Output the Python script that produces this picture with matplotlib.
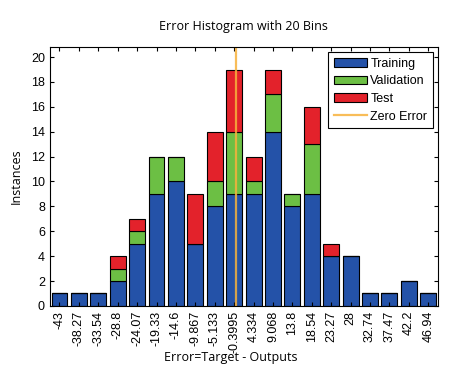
import matplotlib
matplotlib.use('Agg')
import matplotlib.pyplot as plt
import numpy as np

# Histogram data (20 bins)
binCenters = ['-43', '-38.27', '-33.54', '-28.8', '-24.07', '-19.33', '-14.6', '-9.867',
              '-5.133', '-0.3995', '4.334', '9.068', '13.8', '18.54', '23.27', '28',
              '32.74', '37.47', '42.2', '46.94']
training = [1, 1, 1, 2, 5, 9, 10, 5, 8, 9, 9, 14, 8, 9, 4, 4, 1, 1, 2, 1]
validation = [0, 0, 0, 1, 1, 3, 2, 0, 2, 5, 1, 3, 1, 4, 0, 0, 0, 0, 0, 0]
test = [0, 0, 0, 1, 1, 0, 0, 4, 4, 5, 2, 2, 0, 3, 1, 0, 0, 0, 0, 0]
binWidth = 4.7335

blue = '#2452a8'
green = '#6cbf44'
red = '#e3222b'
orange = '#f7b23c'

plt.rcParams['font.family'] = ['Liberation Sans', 'DejaVu Sans']

fig = plt.figure(figsize=(4.61, 3.8), dpi=100)
ax = fig.add_axes([0.108, 0.195, 0.842, 0.681])

pos = np.arange(1, len(binCenters) + 1)
tr = np.array(training)
va = np.array(validation)
te = np.array(test)
b1 = ax.bar(pos, tr, width=0.82, color=blue, edgecolor='black', linewidth=0.8, label='Training')
b2 = ax.bar(pos, va, width=0.82, bottom=tr, color=green, edgecolor='black', linewidth=0.8, label='Validation')
b3 = ax.bar(pos, te, width=0.82, bottom=tr + va, color=red, edgecolor='black', linewidth=0.8, label='Test')

# zero error line: position relative to bin centres
zeroPos = 10 + 0.3995 / binWidth
zl = ax.axvline(zeroPos, color=orange, linewidth=1.6, alpha=0.85, label='Zero Error')

ax.set_xlim(0.5, 20.5)
ax.set_ylim(0, 20.8)
ax.set_yticks(np.arange(0, 21, 2))
ax.set_xticks(pos)
ax.set_xticklabels(binCenters, rotation=90, fontsize=9)
ax.tick_params(axis='y', labelsize=9)
ax.tick_params(direction='in', top=True, right=True, length=3, width=0.8)

ax.set_title('Error Histogram with 20 Bins', fontsize=9, pad=12, family=['Open Sans', 'DejaVu Sans'])
fig.text(0.5, 1 - 357 / 380, 'Error=Target - Outputs', fontsize=9, ha='center', va='center',
         family=['Open Sans', 'DejaVu Sans'])
ax.set_ylabel('Instances', fontsize=9, labelpad=6, family=['Open Sans', 'DejaVu Sans'])

leg = ax.legend([b1, b2, b3, zl], ['Training', 'Validation', 'Test', 'Zero Error'],
                loc='upper right', fontsize=9, fancybox=False, framealpha=1,
                edgecolor='black', borderaxespad=0.4, handlelength=2.6,
                handletextpad=0.3, labelspacing=0.45, borderpad=0.45)
leg.get_frame().set_linewidth(0.8)

fig.savefig('out.png', dpi=100)
